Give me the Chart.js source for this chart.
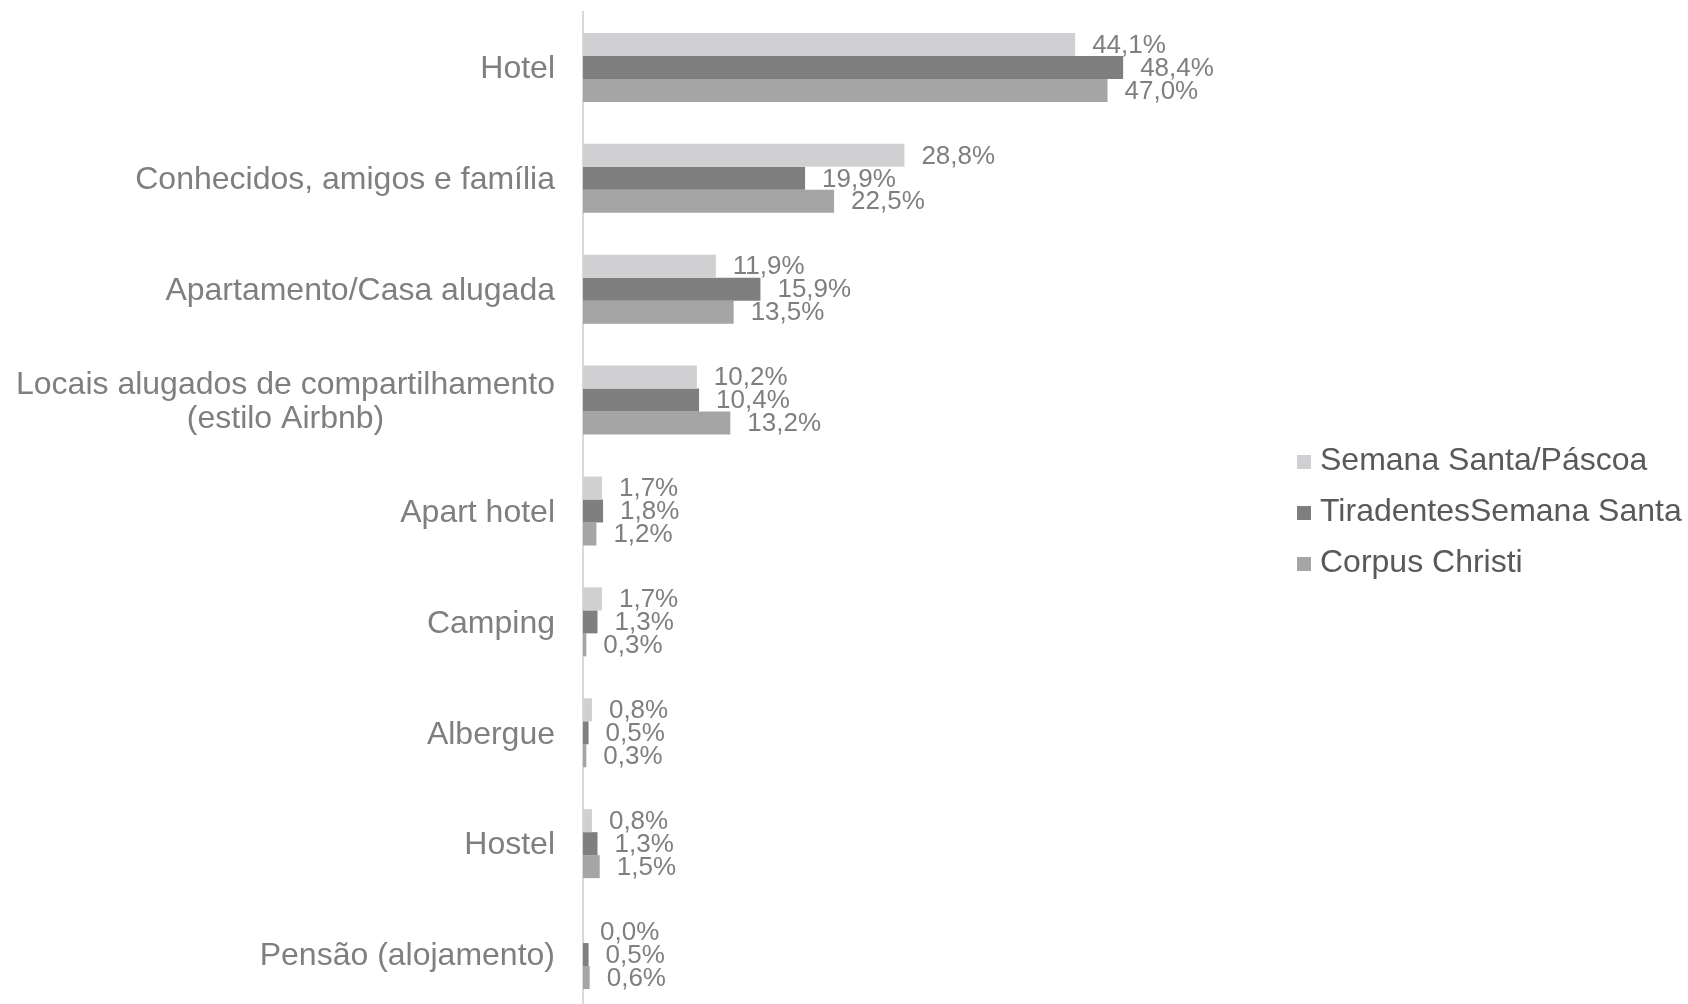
<!DOCTYPE html>
<html>
<head>
<meta charset="utf-8">
<script src="https://cdn.jsdelivr.net/npm/chart.js@4.4.0/dist/chart.umd.min.js"></script>
<style>
  html, body { margin: 0; padding: 0; background: #fff; overflow: hidden; }
</style>
</head>
<body>
<canvas id="chart" width="1688" height="1010"></canvas>
<script>
// categories (multi-line labels are arrays)
const categories = [
    ['Hotel'],
    ['Conhecidos, amigos e família'],
    ['Apartamento/Casa alugada'],
    ['Locais alugados de compartilhamento', '(estilo Airbnb)'],
    ['Apart hotel'],
    ['Camping'],
    ['Albergue'],
    ['Hostel'],
    ['Pensão (alojamento)']
];
const seriesNames = ['Semana Santa/Páscoa', 'TiradentesSemana Santa', 'Corpus Christi'];
const semanaSanta = [44.1, 28.8, 11.9, 10.2, 1.7, 1.7, 0.8, 0.8, 0.0];
const tiradentes = [48.4, 19.9, 15.9, 10.4, 1.8, 1.3, 0.5, 1.3, 0.5];
const corpusChristi = [47.0, 22.5, 13.5, 13.2, 1.2, 0.3, 0.3, 1.5, 0.6];
const seriesColors = ['#d0cfd1', '#7f7f7f', '#a5a5a5'];

const FONT = '"Liberation Sans", Arial, sans-serif';

// category labels, right aligned, multi-line labels centred on each other
const categoryLabels = {
    id: 'categoryLabels',
    afterDraw(chart) {
        const ctx = chart.ctx;
        const y = chart.scales.y;
        const right = chart.chartArea.left - 28;
        ctx.save();
        ctx.font = '32px ' + FONT;
        ctx.fillStyle = '#7f7f7f';
        ctx.textBaseline = 'middle';
        ctx.textAlign = 'center';
        categories.forEach((lines, i) => {
            const cy = y.getPixelForValue(i) + 2;
            const w = Math.max(...lines.map(l => ctx.measureText(l).width));
            const lineH = 34.5;
            const top = cy - (lines.length - 1) * lineH / 2;
            lines.forEach((l, k) => {
                ctx.fillText(l, right - w / 2, top + k * lineH);
            });
        });
        ctx.restore();
    }
};

// value labels at the end of every bar
const valueLabels = {
    id: 'valueLabels',
    afterDatasetsDraw(chart) {
        const ctx = chart.ctx;
        ctx.save();
        ctx.font = '26px ' + FONT;
        ctx.fillStyle = '#7f7f7f';
        ctx.textBaseline = 'middle';
        ctx.textAlign = 'left';
        chart.data.datasets.forEach((ds, di) => {
            chart.getDatasetMeta(di).data.forEach((bar, i) => {
                const txt = ds.data[i].toFixed(1).replace('.', ',') + '%';
                ctx.fillText(txt, bar.x + 17, bar.y + 1);
            });
        });
        ctx.restore();
    }
};

// legend on the right
const sideLegend = {
    id: 'sideLegend',
    afterDraw(chart) {
        const ctx = chart.ctx;
        ctx.save();
        ctx.font = '32px ' + FONT;
        ctx.textBaseline = 'middle';
        ctx.textAlign = 'left';
        seriesNames.forEach((name, i) => {
            const cy = 461 + i * 51;
            ctx.fillStyle = seriesColors[i];
            ctx.fillRect(1297, cy - 6, 14, 14);
            ctx.fillStyle = '#595959';
            ctx.fillText(name, 1320, cy);
        });
        ctx.restore();
    }
};

new Chart(document.getElementById('chart'), {
    type: 'bar',
    data: {
        labels: categories,
        datasets: seriesNames.map((name, i) => ({
            label: name,
            data: [semanaSanta, tiradentes, corpusChristi][i],
            backgroundColor: seriesColors[i],
            borderWidth: 0
        }))
    },
    options: {
        indexAxis: 'y',
        responsive: false,
        animation: false,
        categoryPercentage: 0.622,
        barPercentage: 1,
        layout: { padding: { top: 12, right: 547, bottom: 0, left: 0 } },
        plugins: {
            legend: { display: false },
            tooltip: { enabled: false }
        },
        scales: {
            x: { display: false, min: 0, max: 50 },
            y: {
                afterFit(s) { s.width = 583; },
                ticks: { display: false },
                grid: { display: false, drawTicks: false },
                border: { display: true, color: '#d9d9d9', width: 2 }
            }
        }
    },
    plugins: [categoryLabels, valueLabels, sideLegend]
});
</script>
</body>
</html>
